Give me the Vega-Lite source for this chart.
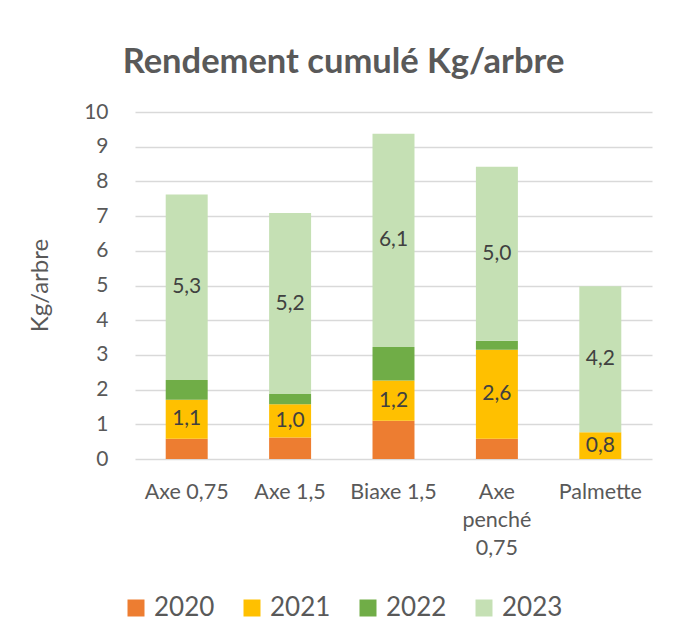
{
  "$schema": "https://vega.github.io/schema/vega-lite/v6.json",
  "width": 517,
  "height": 347,
  "autosize": {"type": "none"},
  "padding": {"left": 135, "top": 112, "right": 25, "bottom": 185},
  "background": "white",
  "config": {
    "font": "Lato",
    "view": {"stroke": null},
    "locale": {"number": {"decimal": ",", "thousands": " ", "grouping": [3], "currency": ["", " €"]}},
    "axisY": {
      "title": "Kg/arbre",
      "values": [0, 1, 2, 3, 4, 5, 6, 7, 8, 9, 10],
      "format": "d",
      "labelOverlap": false,
      "domain": false,
      "ticks": false,
      "grid": true,
      "gridColor": "#d9d9d9",
      "gridWidth": 1.5,
      "labelFont": "Lato",
      "labelFontSize": 21,
      "labelColor": "#595959",
      "labelPadding": 27,
      "titleFont": "Lato",
      "titleFontSize": 24,
      "titleFontWeight": "normal",
      "titleColor": "#595959",
      "titleX": -95,
      "titleY": 173,
      "titleBaseline": "middle",
      "titleAngle": -90
    }
  },
  "title": {
    "text": "Rendement cumulé Kg/arbre",
    "font": "Lato",
    "fontSize": 34.5,
    "fontWeight": "bold",
    "color": "#595959",
    "anchor": "middle",
    "dx": -50,
    "offset": 21
  },
  "data": {
    "values": [
      {"systeme": "Axe 0,75", "annee": "2020", "valeur": 0.58},
      {"systeme": "Axe 0,75", "annee": "2021", "valeur": 1.13},
      {"systeme": "Axe 0,75", "annee": "2022", "valeur": 0.57},
      {"systeme": "Axe 0,75", "annee": "2023", "valeur": 5.34},
      {"systeme": "Axe 1,5", "annee": "2020", "valeur": 0.62},
      {"systeme": "Axe 1,5", "annee": "2021", "valeur": 0.96},
      {"systeme": "Axe 1,5", "annee": "2022", "valeur": 0.29},
      {"systeme": "Axe 1,5", "annee": "2023", "valeur": 5.22},
      {"systeme": "Biaxe 1,5", "annee": "2020", "valeur": 1.1},
      {"systeme": "Biaxe 1,5", "annee": "2021", "valeur": 1.16},
      {"systeme": "Biaxe 1,5", "annee": "2022", "valeur": 0.97},
      {"systeme": "Biaxe 1,5", "annee": "2023", "valeur": 6.14},
      {"systeme": "Axe penché 0,75", "annee": "2020", "valeur": 0.58},
      {"systeme": "Axe penché 0,75", "annee": "2021", "valeur": 2.57},
      {"systeme": "Axe penché 0,75", "annee": "2022", "valeur": 0.26},
      {"systeme": "Axe penché 0,75", "annee": "2023", "valeur": 5.01},
      {"systeme": "Palmette", "annee": "2020", "valeur": 0},
      {"systeme": "Palmette", "annee": "2021", "valeur": 0.77},
      {"systeme": "Palmette", "annee": "2022", "valeur": 0},
      {"systeme": "Palmette", "annee": "2023", "valeur": 4.21}
    ]
  },
  "transform": [
    {"stack": "valeur", "groupby": ["systeme"], "sort": [{"field": "annee", "order": "ascending"}], "as": ["y0", "y1"]},
    {"calculate": "(datum.y0 + datum.y1) / 2", "as": "ymid"}
  ],
  "encoding": {
    "x": {
      "field": "systeme",
      "type": "nominal",
      "sort": ["Axe 0,75", "Axe 1,5", "Biaxe 1,5", "Axe penché 0,75", "Palmette"],
      "scale": {"paddingInner": 0.594, "paddingOuter": 0.297},
      "axis": {
        "title": null,
        "labelAngle": 0,
        "domain": false,
        "ticks": false,
        "labelPadding": 33,
        "labelFont": "Lato",
        "labelFontSize": 21.5,
        "labelColor": "#595959",
        "labelLineHeight": 28,
        "labelBaseline": "middle",
        "labelExpr": "datum.label == 'Axe penché 0,75' ? ['Axe', 'penché', '0,75'] : datum.label"
      }
    }
  },
  "layer": [
    {
      "mark": {"type": "bar"},
      "encoding": {
        "y": {
          "field": "y0",
          "type": "quantitative",
          "scale": {"domain": [0, 10]},
          "title": "Kg/arbre"
        },
        "y2": {"field": "y1"},
        "color": {
          "field": "annee",
          "type": "nominal",
          "scale": {"domain": ["2020", "2021", "2022", "2023"], "range": ["#ED7D31", "#FFC000", "#70AD47", "#C5E0B4"]},
          "legend": {
            "title": null,
            "orient": "none",
            "direction": "horizontal",
            "legendX": -12,
            "legendY": 483,
            "symbolType": "square",
            "symbolSize": 289,
            "symbolStrokeWidth": 0,
            "labelFont": "Lato",
            "labelFontSize": 26,
            "labelColor": "#595959",
            "labelOffset": 5,
            "columnPadding": 24
          }
        }
      }
    },
    {
      "transform": [{"filter": "datum.annee == '2021' || datum.annee == '2023'"}],
      "mark": {"type": "text", "font": "Lato", "fontSize": 21, "color": "#404040", "baseline": "middle"},
      "encoding": {
        "y": {"field": "ymid", "type": "quantitative", "title": "Kg/arbre"},
        "text": {"field": "valeur", "type": "quantitative", "format": ".1f"}
      }
    }
  ]
}
